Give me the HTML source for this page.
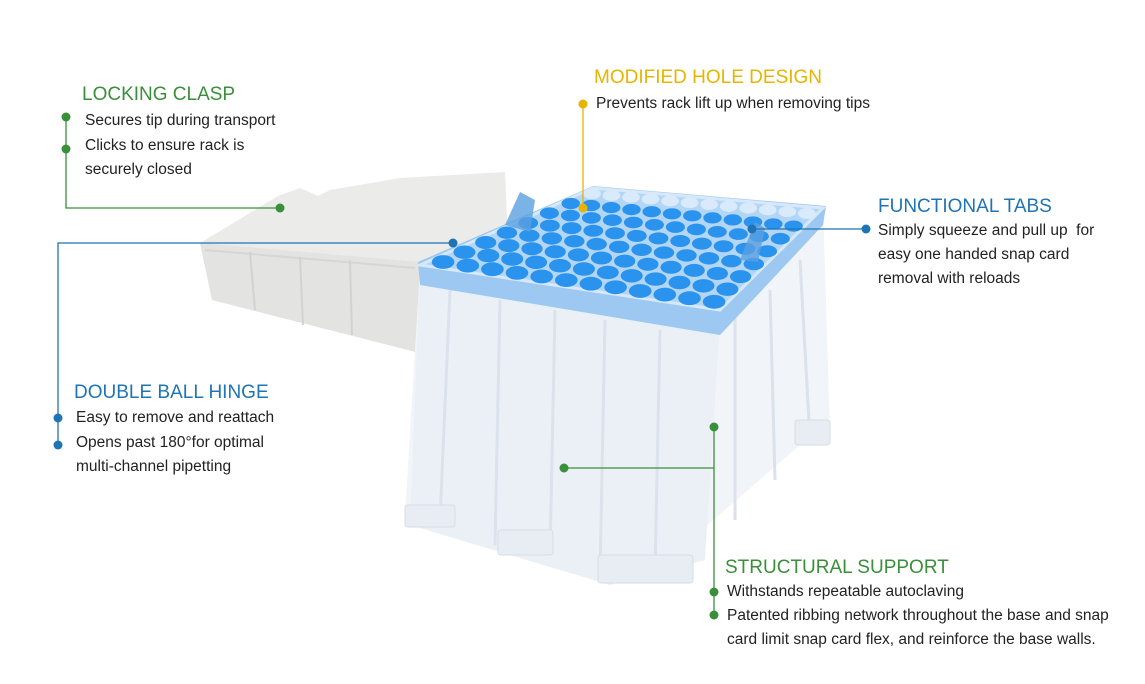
<!DOCTYPE html>
<html><head><meta charset="utf-8">
<style>
html,body{margin:0;padding:0;background:#fff;}
body{width:1145px;height:684px;overflow:hidden;position:relative;font-family:"Liberation Sans Narrow","Liberation Sans",sans-serif;}
.t{position:absolute;font-size:15.5px;color:#222;line-height:24px;white-space:nowrap;}
.h{position:absolute;font-size:19px;line-height:22px;white-space:nowrap;font-family:"Liberation Sans",sans-serif;}
</style></head><body>
<svg id="s" width="1145" height="684" style="position:absolute;left:0;top:0">
<!-- lid -->
<polygon points="200,243 278,196 300,188 318,196 330,190 400,178 505,172 508,240 420,262 416,352 212,300" fill="#ebebea"/>
<polygon points="200,243 420,262 416,352 212,300" fill="#e3e3e1"/>
<polyline points="205,250 415,268" stroke="#d6d6d4" fill="none" stroke-width="2"/>
<g stroke="#d2d2d0" stroke-width="2"><line x1="250" y1="252" x2="255" y2="310"/><line x1="300" y1="257" x2="303" y2="325"/><line x1="350" y1="260" x2="352" y2="335"/></g>
<!-- body -->
<polygon points="420,268 600,190 823,206 830,430 800,445 690,540 610,585 540,560 410,525 405,515" fill="#f1f4f8"/>
<polygon points="420,268 720,318 705,560 610,585 410,525" fill="#ebf0f6"/>
<g stroke="#dbe2eb" stroke-width="3">
<line x1="450" y1="290" x2="440" y2="520"/><line x1="500" y1="300" x2="495" y2="545"/><line x1="555" y1="310" x2="550" y2="555"/><line x1="605" y1="320" x2="600" y2="575"/><line x1="660" y1="330" x2="655" y2="570"/><line x1="735" y1="310" x2="735" y2="520"/><line x1="770" y1="290" x2="775" y2="480"/><line x1="800" y1="260" x2="810" y2="440"/>
</g>
<g fill="#e8edf3" stroke="#d6dde6">
<rect x="405" y="505" width="50" height="22" rx="3"/><rect x="498" y="530" width="55" height="25" rx="3"/><rect x="598" y="555" width="95" height="28" rx="3"/><rect x="795" y="420" width="35" height="25" rx="3"/>
</g>
<!-- blue top -->
<polygon points="418,262 420,285 720,335 823,225 826,206 593,186" fill="#9cc8f2"/>
<polygon points="420,265 593,188 823,208 720,310" fill="#b3d5f6" stroke="#d6e8f9" stroke-width="3"/>
<g id="holes"></g>
<polygon points="505,225 520,192 535,200 530,232" fill="#5aa0e0" opacity="0.8"/>
<polygon points="740,260 755,222 765,228 758,262" fill="#5aa0e0" opacity="0.8"/>
<!-- connectors -->
<g fill="none" stroke-width="1.3">
<polyline points="66,117 66,208 280,208" stroke="#3a8f3a"/>
<polyline points="58,445 58,243 453,243" stroke="#1f74b4"/>
<polyline points="583,104 583,208" stroke="#e8b400"/>
<polyline points="866,229 752,229" stroke="#1f74b4"/>
<polyline points="714,427 714,615" stroke="#3a8f3a"/>
<polyline points="564,468 714,468" stroke="#3a8f3a"/>
</g>
<g fill="#3a8f3a"><circle cx="66" cy="117" r="4.5"/><circle cx="66" cy="149" r="4.5"/><circle cx="280" cy="208" r="4.5"/><circle cx="714" cy="427" r="4.5"/><circle cx="564" cy="468" r="4.5"/><circle cx="714" cy="592" r="4.5"/><circle cx="714" cy="615" r="4.5"/></g>
<g fill="#1f74b4"><circle cx="58" cy="418" r="4.5"/><circle cx="58" cy="445" r="4.5"/><circle cx="453" cy="243" r="4.5"/><circle cx="866" cy="229" r="4.5"/><circle cx="752" cy="229" r="4.5"/></g>
<g fill="#e8b400"><circle cx="583" cy="104" r="4.5"/><circle cx="583" cy="208" r="4.5"/></g>
</svg>
<div class="h" style="left:82px;top:84px;color:#3a8f3a">LOCKING CLASP</div>
<div class="t" style="left:85px;top:109px">Secures tip during transport</div>
<div class="t" style="left:85px;top:134px">Clicks to ensure rack is<br>securely closed</div>
<div class="h" style="left:594px;top:67px;color:#e8b400">MODIFIED HOLE DESIGN</div>
<div class="t" style="left:596px;top:92px">Prevents rack lift up when removing tips</div>
<div class="h" style="left:878px;top:196px;color:#1f74b4">FUNCTIONAL TABS</div>
<div class="t" style="left:878px;top:219px">Simply squeeze and pull up&nbsp; for<br>easy one handed snap card<br>removal with reloads</div>
<div class="h" style="left:74px;top:382px;color:#1f74b4">DOUBLE BALL HINGE</div>
<div class="t" style="left:76px;top:406px">Easy to remove and reattach</div>
<div class="t" style="left:76px;top:431px">Opens past 180°for optimal<br>multi-channel pipetting</div>
<div class="h" style="left:725px;top:557px;color:#3a8f3a">STRUCTURAL SUPPORT</div>
<div class="t" style="left:727px;top:580px">Withstands repeatable autoclaving</div>
<div class="t" style="left:727px;top:604px">Patented ribbing network throughout the base and snap<br>card limit snap card flex, and reinforce the base walls.</div>
<script>
(function(){
var L=[420,265],B=[593,188],R=[823,208],F=[720,310];
var g=document.getElementById('holes'),h='';
for(var i=0;i<12;i++){var u=(i+0.5)/12;
 for(var j=0;j<8;j++){var v=(j+0.5)/8;
  var fx=L[0]+(F[0]-L[0])*u, fy=L[1]+(F[1]-L[1])*u;
  var bx=B[0]+(R[0]-B[0])*u, by=B[1]+(R[1]-B[1])*u;
  var x=fx+(bx-fx)*v, y=fy+(by-fy)*v;
  var s=1-0.25*v;
  var c=j==7?'#d9ebfb':'#2a93ee';
  h+='<ellipse cx="'+x.toFixed(1)+'" cy="'+y.toFixed(1)+'" rx="'+(11.5*s).toFixed(1)+'" ry="'+(7*s).toFixed(1)+'" fill="'+c+'"/>';
 }}
g.innerHTML=h;
})();
</script>
</body></html>
